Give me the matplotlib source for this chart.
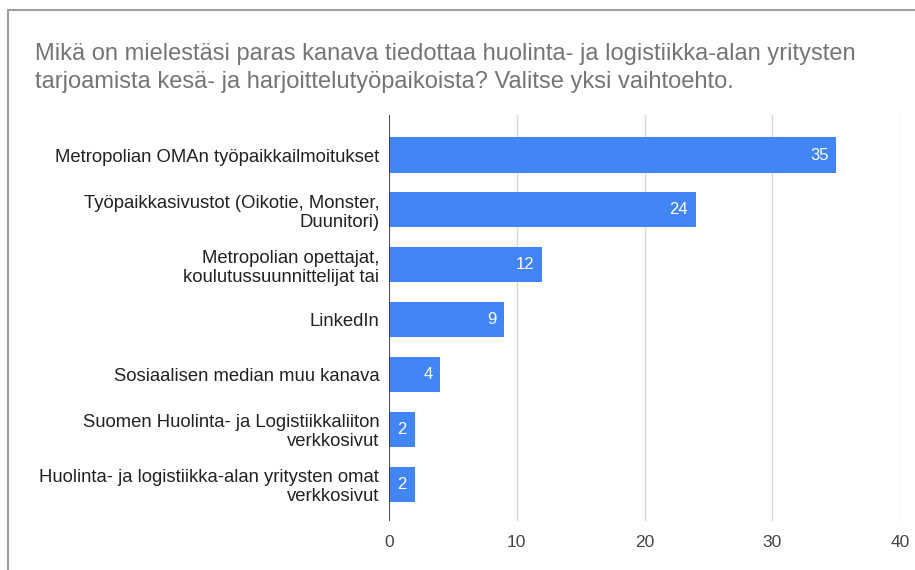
import matplotlib.pyplot as plt
from matplotlib.patches import Rectangle

plt.rcParams["font.family"] = ["Liberation Sans", "DejaVu Sans"]

title = ("Mikä on mielestäsi paras kanava tiedottaa huolinta- ja logistiikka-alan yritysten\n"
         "tarjoamista kesä- ja harjoittelutyöpaikoista? Valitse yksi vaihtoehto.")
categories = [
    "Metropolian OMAn työpaikkailmoitukset",
    "Työpaikkasivustot (Oikotie, Monster,\nDuunitori)",
    "Metropolian opettajat,\nkoulutussuunnittelijat tai",
    "LinkedIn",
    "Sosiaalisen median muu kanava",
    "Suomen Huolinta- ja Logistiikkaliiton\nverkkosivut",
    "Huolinta- ja logistiikka-alan yritysten omat\nverkkosivut",
]
values = [35, 24, 12, 9, 4, 2, 2]
xticks = [0, 10, 20, 30, 40]

fig = plt.figure(figsize=(9.15, 5.7), dpi=100)

# grey frame of the screenshot (left and top edges visible)
fig.add_artist(Rectangle((8 / 915, -0.1), 1.2, 1 - 10 / 570 + 0.1,
                         transform=fig.transFigure, fill=False,
                         edgecolor="#9e9e9e", linewidth=1.5))

fig.text(35 / 915, 1 - 68 / 570, title, fontsize=17, color="#757575",
         ha="left", va="center", linespacing=1.4)

ax = fig.add_axes([389 / 915, 1 - 521 / 570, 511 / 915, 406 / 570])
y = list(range(len(categories)))
ax.barh(y, values, height=0.64, color="#4285f4", zorder=3)

for yi, v in zip(y, values):
    ax.text(v - 0.6, yi, str(v), color="white", fontsize=12,
            ha="right", va="center", zorder=4)

ax.set_xlim(0, 40)
ax.set_ylim(6.67, -0.73)
ax.set_xticks(xticks)
ax.set_xticklabels([str(t) for t in xticks], fontsize=12.5, color="#444444")
ax.set_yticks(y)
ax.set_yticklabels(categories, fontsize=13.3, color="#222222", linespacing=1.15)
ax.tick_params(axis="both", length=0)
ax.tick_params(axis="x", pad=10)
ax.tick_params(axis="y", pad=7)

ax.grid(axis="x", color="#d9d9d9", linewidth=1, zorder=0)
ax.axvline(0, color="#333333", linewidth=1.2, zorder=5)
for s in ax.spines.values():
    s.set_visible(False)

fig.savefig("out.png", dpi=100)
